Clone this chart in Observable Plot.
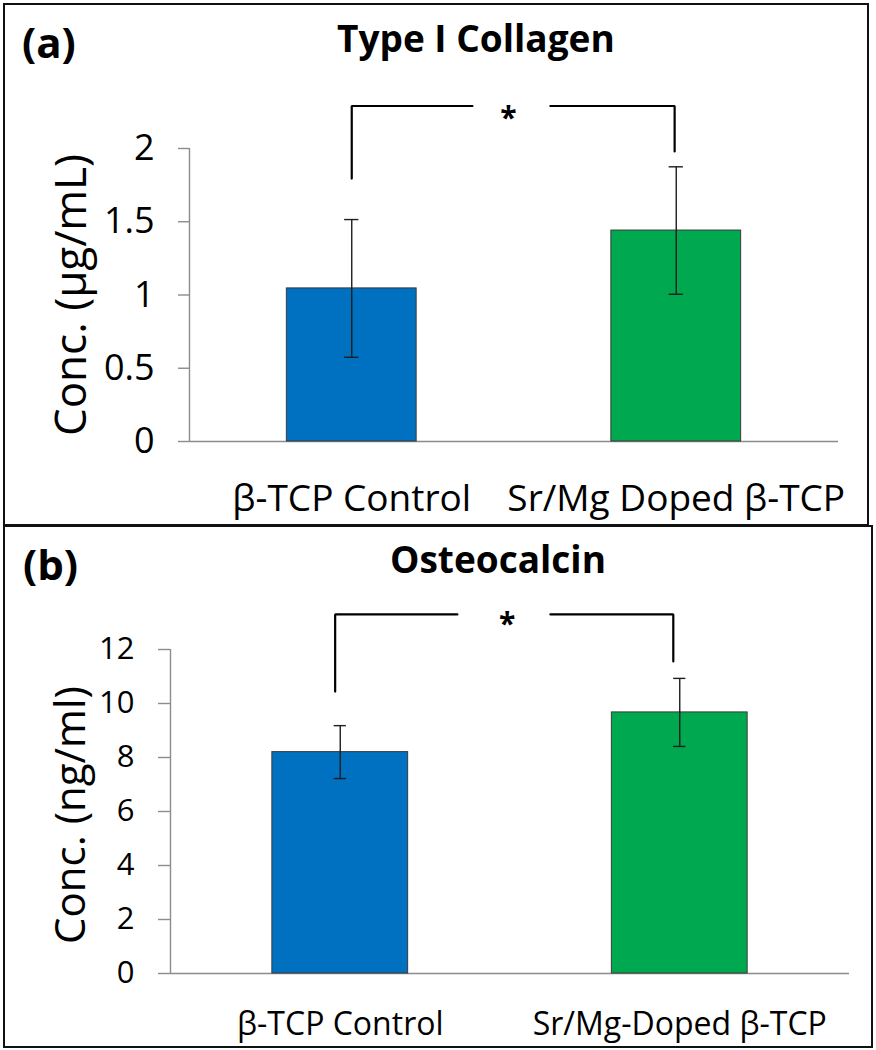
<!DOCTYPE html>
<html>
<head>
<meta charset="utf-8">
<script src="https://cdn.jsdelivr.net/npm/d3@7"></script>
<script src="https://cdn.jsdelivr.net/npm/@observablehq/plot@0.6"></script>
<style>
  html, body { margin: 0; padding: 0; background: white; }
  #root { position: relative; width: 876px; height: 1050px; overflow: hidden; font-family: "Open Sans", sans-serif; }
  .plotbox { position: absolute; left: 0; }
  .plotbox svg { background: transparent !important; overflow: visible; }
  .panel { position: absolute; box-sizing: border-box; border: 2.5px solid #111; pointer-events: none; }
  #overlay { position: absolute; left: 0; top: 0; pointer-events: none; }
</style>
</head>
<body>
<div id="root">
  <div class="plotbox" id="plotA" style="top:0px"></div>
  <div class="plotbox" id="plotB" style="top:526px"></div>
  <div class="panel" style="left:3px; top:3px; width:866px; height:523px"></div>
  <div class="panel" style="left:3px; top:525px; width:870px; height:523px"></div>
</div>
<script>
// ---------- data ----------
const categoriesA = ["β-TCP Control", "Sr/Mg Doped β-TCP"];
const categoriesB = ["β-TCP Control", "Sr/Mg-Doped β-TCP"];
const collagenMean = [1.045, 1.44];
const collagenErr = [0.47, 0.435];
const osteocalcinMean = [8.2, 9.67];
const osteocalcinErr = [0.98, 1.26];
const yTicksA = [0, 0.5, 1, 1.5, 2];
const yTicksB = [0, 2, 4, 6, 8, 10, 12];
const barColors = ["#0070C0", "#00A94F"];
// significance brackets (x in category-index units, y in data units)
const bracketXA = [0, 0.372, 0.612, 0.995];
const bracketYA = [1.795, 2.29, 1.98];
const starXA = 0.483;
const bracketXB = [-0.015, 0.345, 0.619, 0.981];
const bracketYB = [10.44, 13.3, 11.56];
const starXB = 0.492;
const titleA = "Type I Collagen";
const titleB = "Osteocalcin";
const yLabelA = "Conc. (µg/mL)";
const yLabelB = "Conc. (ng/ml)";

const xDomain = [-0.5, 1.5];
const barHalf = 0.2;

function rows(means, errs) {
  return means.map((m, i) => ({i, mean: m, err: errs[i], color: barColors[i]}));
}
function bracket(bx, by) {
  return {
    left: [{x: bx[0], y: by[0]}, {x: bx[0], y: by[1]}, {x: bx[1], y: by[1]}],
    right: [{x: bx[2], y: by[1]}, {x: bx[3], y: by[1]}, {x: bx[3], y: by[2]}]
  };
}

function panel(o) {
  const data = rows(o.means, o.errs);
  const br = bracket(o.bx, o.by);
  return Plot.plot({
    width: 876, height: o.height,
    marginLeft: o.ml, marginRight: o.mr, marginTop: o.mt, marginBottom: o.mb,
    x: {domain: xDomain},
    y: {domain: [o.yTicks[0], o.yTicks[o.yTicks.length - 1]]},
    color: {type: "identity"},
    style: {fontFamily: "Open Sans", background: "transparent", overflow: "visible", color: "black"},
    marks: [
      Plot.ruleX([xDomain[0]], {stroke: "#8c8c8c", strokeWidth: 1.4}),
      Plot.ruleY([o.yTicks[0]], {stroke: "#8c8c8c", strokeWidth: 1.4}),
      Plot.axisY({ticks: o.yTicks, tickSize: o.tickSize, tickPadding: o.tickPad, fontSize: o.tickFont,
        tickFormat: d => String(d), label: null, stroke: "#8c8c8c", strokeWidth: 1.4, fill: "black"}),
      Plot.axisX({ticks: [0, 1], tickFormat: i => o.cats[i], tickSize: 0, tickPadding: o.xPad,
        fontSize: o.xFont, label: null, fill: "black"}),
      Plot.rectY(data, {x1: d => d.i - barHalf, x2: d => d.i + barHalf, y: "mean", fill: "color",
        stroke: "#3a3a3a", strokeWidth: 1}),
      Plot.ruleX(data, {x: "i", y1: d => d.mean - d.err, y2: d => d.mean + d.err, stroke: "#1e1e1e", strokeWidth: 1.4}),
      Plot.ruleY(data, {y: d => d.mean + d.err, x1: d => d.i - o.cap, x2: d => d.i + o.cap, stroke: "#1e1e1e", strokeWidth: 1.4}),
      Plot.ruleY(data, {y: d => d.mean - d.err, x1: d => d.i - o.cap, x2: d => d.i + o.cap, stroke: "#1e1e1e", strokeWidth: 1.4}),
      Plot.line(br.left, {x: "x", y: "y", stroke: "black", strokeWidth: 2.2, strokeLinejoin: "miter"}),
      Plot.line(br.right, {x: "x", y: "y", stroke: "black", strokeWidth: 2.2, strokeLinejoin: "miter"}),
      Plot.text([{x: o.starX, y: o.by[1]}], {x: "x", y: "y", text: () => "*", fontSize: 30, fontWeight: "bold",
        fill: "black", dy: o.starDy})
    ]
  });
}

document.getElementById("plotA").appendChild(panel({
  means: collagenMean, errs: collagenErr, cats: categoriesA, yTicks: yTicksA,
  bx: bracketXA, by: bracketYA, starX: starXA, starDy: 12,
  height: 526, ml: 189, mr: 38, mt: 148, mb: 85,
  tickSize: 11, tickPad: 24, tickFont: 36, xPad: 43, xFont: 37, cap: 0.022
}));
document.getElementById("plotB").appendChild(panel({
  means: osteocalcinMean, errs: osteocalcinErr, cats: categoriesB, yTicks: yTicksB,
  bx: bracketXB, by: bracketYB, starX: starXB, starDy: 10,
  height: 524, ml: 170, mr: 27, mt: 123, mb: 77,
  tickSize: 12, tickPad: 24, tickFont: 31, xPad: 39, xFont: 32, cap: 0.018
}));

// ---------- overlay text ----------
const svg = d3.select("#root").append("svg").attr("id", "overlay")
  .attr("width", 876).attr("height", 1050)
  .style("font-family", "'Open Sans', sans-serif");
const texts = [
  {t: "(a)", x: 22, y: 58, size: 42, weight: "bold", anchor: "start"},
  {t: titleA, x: 337, y: 52, size: 37, weight: "bold", anchor: "start"},
  {t: "(b)", x: 23, y: 580, size: 42, weight: "bold", anchor: "start"},
  {t: titleB, x: 390, y: 573, size: 37, weight: "bold", anchor: "start"}
];
texts.forEach(d => svg.append("text").attr("x", d.x).attr("y", d.y)
  .attr("font-size", d.size).attr("font-weight", d.weight).attr("text-anchor", d.anchor)
  .attr("fill", "black").text(d.t));
[{t: yLabelA, x: 86, y: 295, size: 44}, {t: yLabelB, x: 85, y: 815, size: 42}].forEach(d =>
  svg.append("text").attr("transform", `translate(${d.x},${d.y}) rotate(-90)`)
    .attr("font-size", d.size).attr("text-anchor", "middle").attr("fill", "black").text(d.t));
</script>
</body>
</html>
